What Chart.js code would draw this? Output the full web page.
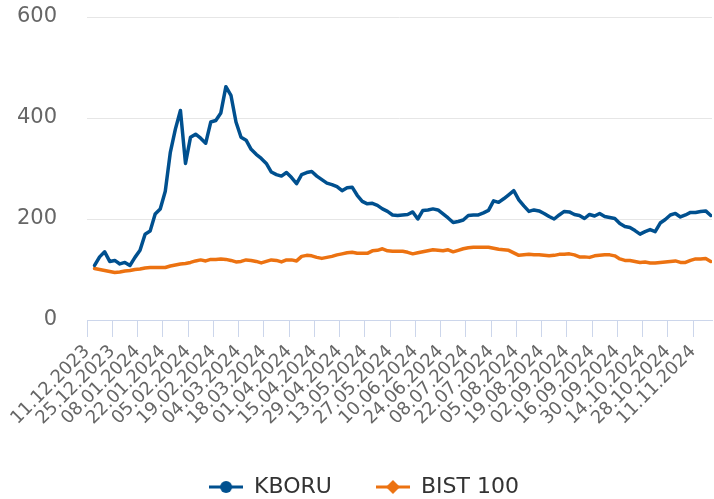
<!DOCTYPE html>
<html>
<head>
<meta charset="utf-8">
<script src="https://cdn.jsdelivr.net/npm/chart.js@4.4.1/dist/chart.umd.min.js"></script>
<style>
  html, body { margin: 0; padding: 0; background: #ffffff; }
  #wrap { width: 714px; height: 499px; position: relative; }
</style>
</head>
<body>
<div id="wrap"><canvas id="c" width="714" height="499"></canvas></div>
<script>
// Tick labels: every 10th trading day (two weeks), starting at day 0
const tickLabels = ['11.12.2023','25.12.2023','08.01.2024','22.01.2024','05.02.2024','19.02.2024',
  '04.03.2024','18.03.2024','01.04.2024','15.04.2024','29.04.2024','13.05.2024','27.05.2024',
  '10.06.2024','24.06.2024','08.07.2024','22.07.2024','05.08.2024','19.08.2024','02.09.2024',
  '16.09.2024','30.09.2024','14.10.2024','28.10.2024','11.11.2024'];

// Series sampled every 2nd trading day, starting at trading day 3
const firstDay = 3;
const dayStep = 2;
const lastDay = 247.5;

const kboru = [108,125,135,116,118,111,114,108,124,138,170,176,210,220,255,332,378,415,310,362,
  368,360,350,392,395,410,462,445,392,362,356,338,328,320,310,293,288,285,292,282,
  270,288,292,294,285,278,271,268,264,256,262,263,247,235,230,231,227,220,215,208,
  207,208,209,214,200,217,218,220,218,210,202,193,195,198,207,208,208,212,217,236,
  233,240,248,256,238,226,215,218,216,211,205,200,208,215,214,209,207,201,209,206,
  211,205,203,201,191,185,183,177,170,175,179,175,192,199,208,211,204,208,213,213,
  215,216,207];

const bist = [102,100,98,96,94,95,97,98,100,101,103,104,104,104,104,107,109,111,112,114,
  117,119,117,120,120,121,120,118,115,116,119,118,116,113,116,119,118,115,119,119,
  117,126,128,127,124,122,124,126,129,131,133,134,132,132,132,137,138,141,137,136,
  136,136,134,131,133,135,137,139,138,137,139,135,138,141,143,144,144,144,144,142,
  140,139,138,133,128,129,130,129,129,128,127,128,130,130,131,129,125,125,124,127,
  128,129,129,127,121,118,118,116,114,115,113,113,114,115,116,117,114,114,118,121,
  121,122,116];

const seriesNames = ['KBORU', 'BIST 100'];
const seriesColors = ['#00508f', '#ec7211'];

function toPoints(arr) {
  return arr.map((v, i) => ({ x: firstDay + i * dayStep, y: v }));
}

function legendMarker(color, shape) {
  const c = document.createElement('canvas');
  c.width = 34; c.height = 16;
  const g = c.getContext('2d');
  g.strokeStyle = color; g.lineWidth = 3;
  g.beginPath(); g.moveTo(0, 8); g.lineTo(34, 8); g.stroke();
  g.fillStyle = color;
  g.beginPath();
  if (shape === 'circle') {
    g.arc(17, 8, 6, 0, Math.PI * 2);
  } else {
    g.moveTo(17, 1); g.lineTo(24, 8); g.lineTo(17, 15); g.lineTo(10, 8); g.closePath();
  }
  g.fill();
  return c;
}

const font = "'DejaVu Sans', Verdana, sans-serif";

const shiftLegend = {
  id: 'shiftLegend',
  afterLayout(chart) {
    if (chart.legend) { chart.legend.left += 8; chart.legend.right += 8; }
  }
};

new Chart(document.getElementById('c'), {
  type: 'line',
  data: {
    datasets: [
      { label: seriesNames[0], data: toPoints(kboru), borderColor: seriesColors[0], backgroundColor: seriesColors[0],
        borderWidth: 3.5, pointRadius: 0, pointHoverRadius: 0, tension: 0, borderJoinStyle: 'round', borderCapStyle: 'round',
        pointStyle: legendMarker(seriesColors[0], 'circle') },
      { label: seriesNames[1], data: toPoints(bist), borderColor: seriesColors[1], backgroundColor: seriesColors[1],
        borderWidth: 3.5, pointRadius: 0, pointHoverRadius: 0, tension: 0, borderJoinStyle: 'round', borderCapStyle: 'round',
        pointStyle: legendMarker(seriesColors[1], 'diamond') }
    ]
  },
  plugins: [shiftLegend],
  options: {
    responsive: false,
    animation: false,
    devicePixelRatio: 1,
    layout: { padding: { top: 17, right: 2, left: 0, bottom: -9 } },
    plugins: {
      tooltip: { enabled: false },
      legend: {
        position: 'bottom',
        labels: {
          usePointStyle: true,
          pointStyleWidth: 34,
          padding: 44,
          color: '#333333',
          font: { family: font, size: 22 }
        }
      }
    },
    scales: {
      x: {
        type: 'linear',
        min: 0,
        max: lastDay,
        afterFit: (s) => { s.height = 112; },
        border: { display: true, color: '#ccd6eb', width: 1 },
        grid: { drawOnChartArea: false, drawTicks: true, tickLength: 17, tickColor: '#ccd6eb', tickWidth: 1 },
        ticks: {
          stepSize: 10,
          autoSkip: false,
          includeBounds: false,
          maxRotation: 45,
          minRotation: 45,
          padding: 4,
          color: '#666666',
          font: { family: font, size: 18 },
          callback: (v) => (v % 10 === 0 && tickLabels[v / 10] !== undefined) ? tickLabels[v / 10] : null
        }
      },
      y: {
        min: 0,
        max: 600,
        afterFit: (s) => { s.width = 87; },
        border: { display: false },
        grid: { color: '#e6e6e6', lineWidth: 1, drawTicks: true, tickLength: 30, tickColor: 'rgba(0,0,0,0)' },
        ticks: {
          stepSize: 200,
          padding: 0,
          color: '#666666',
          font: { family: font, size: 21 }
        }
      }
    }
  }
});
</script>
</body>
</html>
